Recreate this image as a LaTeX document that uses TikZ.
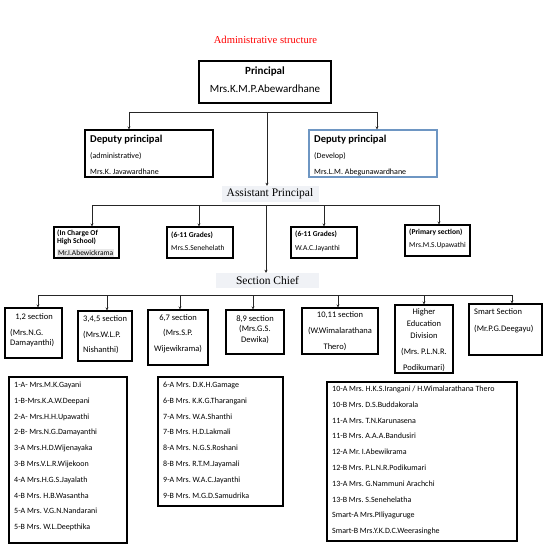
\documentclass[tikz,border=0pt]{standalone}
\usepackage{fontspec}
\setmainfont{Carlito}
\newfontfamily\titleserif{Liberation Serif}
\usetikzlibrary{arrows.meta}
\definecolor{devblue}{RGB}{110,150,195}
\definecolor{lblbg}{RGB}{240,242,246}
\frenchspacing
\begin{document}
\begin{tikzpicture}[x=1pt,y=-1pt,
  box/.style={draw=black, line width=1.1pt, inner sep=0pt, fill=none},
  ln/.style={inner sep=0pt, anchor=base west},
  cln/.style={inner sep=0pt, anchor=base},
  conn/.style={draw=black!85, line width=0.9pt},
  arr/.style={conn, -{Stealth[length=3pt,width=3pt]}},
  lbl/.style={fill=lblbg, inner sep=0pt, font=\titleserif\fontsize{11.5}{12}\selectfont},
  fA/.style={font=\fontsize{11}{13}\selectfont},
  fB/.style={font=\fontsize{10.5}{12}\selectfont\bfseries},
  fC/.style={font=\fontsize{8}{10}\selectfont},
  fR/.style={font=\fontsize{7.5}{9}\selectfont},
  fRb/.style={font=\fontsize{7.5}{9}\selectfont\bfseries},
  fS/.style={font=\fontsize{8.5}{10}\selectfont},
  fL/.style={font=\fontsize{8}{10}\selectfont}]
\useasboundingbox (0,0) rectangle (546,553);
\fill[white] (0,0) rectangle (546,553);

% title
\node[cln, text=red, font=\titleserif\fontsize{10.6}{12}\selectfont] (title) at (265.5,43.2) {Administrative structure};

% principal
\node[box, minimum width=132pt, minimum height=42pt] (p) at (265,82) {};
\node[cln, fA] (p1) at (265,74.5) {\textbf{Principal}};
\node[cln, fA] (p2) at (265,92.5) {Mrs.K.M.P.Abewardhane};

% deputies
\node[box, minimum width=128pt, minimum height=47pt] (dl) at (149,153.5) {};
\node[ln, fB] (dl1) at (90,142.3) {Deputy principal};
\node[ln, fC] (dl2) at (90,158.4) {(administrative)};
\node[ln, fC] (dl3) at (90,174.6) {Mrs.K. Javawardhane};
\node[box, draw=devblue, minimum width=128pt, minimum height=47pt] (dr) at (373,153.5) {};
\node[ln, fB] (dr1) at (314,142.3) {Deputy principal};
\node[ln, fC] (dr2) at (314,158.4) {(Develop)};
\node[ln, fC] (dr3) at (314,174.6) {Mrs.L.M. Abegunawardhane};

% labels
\node[lbl, minimum width=97pt, minimum height=16pt] (ap) at (270,194) {Assistant Principal};
\node[lbl, minimum width=103pt, minimum height=15pt] (sc) at (267.5,280.5) {Section Chief};

% top connectors
\coordinate (t0) at (267,112);
\coordinate (tl) at (129,112);
\coordinate (tr) at (377,112);
\draw[conn] (tl) -- (tr);
\draw[arr] (tl) -- (tl |- dl.north);
\draw[arr] (tr) -- (tr |- dr.north);
\draw[arr] (t0) -- (t0 |- ap.north);

% row 2 boxes
\node[box, minimum width=65pt, minimum height=31pt] (r1) at (86.5,242.5) {};
\node[box, minimum width=66pt, minimum height=31pt] (r2) at (200,242.5) {};
\node[box, minimum width=66pt, minimum height=31pt] (r3) at (324,242.5) {};
\node[box, minimum width=65pt, minimum height=31pt] (r4) at (437.5,240.5) {};
\node[ln, fRb] (r1a) at (57,235.2) {(In Charge Of};
\node[ln, fRb] (r1b) at (57,243.2) {High School)};
\node[ln, fR, fill=black!9, inner sep=0.8pt, text depth=1pt] (r1c) at (57,255.2) {Mr.I.Abewickrama};
\node[ln, fRb] (r2a) at (171,237.2) {(6-11 Grades)};
\node[ln, fR] (r2b) at (171,250.2) {Mrs.S.Senehelath};
\node[ln, fRb] (r3a) at (295,236.2) {(6-11 Grades)};
\node[ln, fR] (r3b) at (295,250.2) {W.A.C.Jayanthi};
\node[ln, fRb] (r4a) at (409,234.2) {(Primary section)};
\node[ln, fR] (r4b) at (409,247.2) {Mrs.M.S.Upawathi};

% row 2 connectors
\coordinate (a0) at (266,205);
\coordinate (a1) at (92,205);
\coordinate (a2) at (199,205);
\coordinate (a3) at (324,205);
\coordinate (a4) at (439,205);
\draw[conn] (a1) -- (a4);
\draw[arr] (a1) -- (a1 |- r1.north);
\draw[arr] (a2) -- (a2 |- r2.north);
\draw[arr] (a3) -- (a3 |- r3.north);
\draw[arr] (a4) -- (a4 |- r4.north);
\draw[arr] (a0) -- (a0 |- sc.north);

% row 3 boxes
\node[box, minimum width=57pt, minimum height=50pt] (s1) at (33.5,333) {};
\node[box, minimum width=54pt, minimum height=50pt] (s2) at (105,336) {};
\node[box, minimum width=60pt, minimum height=55pt] (s3) at (178,337.5) {};
\node[box, minimum width=58pt, minimum height=44pt] (s4) at (255,332) {};
\node[box, minimum width=76pt, minimum height=46pt] (s5) at (340,331) {};
\node[box, minimum width=58pt, minimum height=68pt] (s6) at (424,339) {};
\node[box, minimum width=73pt, minimum height=51pt] (s7) at (505.5,329.5) {};

\node[cln, fS] (s1a) at (34,319.5) {1,2 section};
\node[ln, fS] (s1b) at (10,335.5) {(Mrs.N.G.};
\node[ln, fS] (s1c) at (10,345.5) {Damayanthi)};
\node[ln, fS] (s2a) at (83,321.5) {3,4,5 section};
\node[ln, fS] (s2b) at (83,337.5) {(Mrs.W.L.P.};
\node[ln, fS] (s2c) at (83,352.5) {Nishanthi)};
\node[cln, fS] (s3a) at (178,320.5) {6,7 section};
\node[cln, fS] (s3b) at (178,335.5) {(Mrs.S.P.};
\node[cln, fS] (s3c) at (178,351.5) {Wijewikrama)};
\node[cln, fS] (s4a) at (255,321.5) {8,9 section};
\node[cln, fS] (s4b) at (255,331.5) {(Mrs.G.S.};
\node[cln, fS] (s4c) at (255,342.5) {Dewika)};
\node[cln, fS] (s5a) at (340,317.5) {10,11 section};
\node[cln, fS] (s5b) at (340,333.5) {(W.Wimalarathana};
\node[cln, fS] (s5c) at (335,349.5) {Thero)};
\node[cln, fS] (s6a) at (424,314.5) {Higher};
\node[cln, fS] (s6b) at (424,326.5) {Education};
\node[cln, fS] (s6c) at (424,338.5) {Division};
\node[cln, fS] (s6d) at (424,354.5) {(Mrs. P.L.N.R.};
\node[cln, fS] (s6e) at (424,370.5) {Podikumari)};
\node[ln, fS] (s7a) at (474,314.5) {Smart Section};
\node[ln, fS] (s7b) at (474,331.5) {(Mr.P.G.Deegayu)};

% row 3 connectors
\coordinate (c1) at (38,295);
\coordinate (c2) at (107,295);
\coordinate (c3) at (180,295);
\coordinate (c4) at (253,295);
\coordinate (c5) at (338,295);
\coordinate (c6) at (424,295);
\coordinate (c7) at (512,295);
\draw[conn] (c1) -- (c7);
\draw[arr] (c1) -- (c1 |- s1.north);
\draw[arr] (c2) -- (c2 |- s2.north);
\draw[arr] (c3) -- (c3 |- s3.north);
\draw[arr] (c4) -- (c4 |- s4.north);
\draw[arr] (c5) -- (c5 |- s5.north);
\draw[arr] (c6) -- (c6 |- s6.north);
\draw[arr] (c7) -- (c7 |- s7.north);

% bottom lists
\node[box, minimum width=118pt, minimum height=166pt] (la) at (68,460) {};
\node[box, minimum width=125pt, minimum height=129pt] (lb) at (220.5,441.5) {};
\node[box, minimum width=190pt, minimum height=159pt] (lc) at (422,461.5) {};
\foreach \t [count=\i] in {1-A- Mrs.M.K.Gayani, 1-B-Mrs.K.A.W.Deepani, 2-A- Mrs.H.H.Upawathi, 2-B- Mrs.N.G.Damayanthi, 3-A Mrs.H.D.Wijenayaka, 3-B Mrs.V.L.R.Wijekoon, 4-A Mrs.H.G.S.Jayalath, 4-B Mrs. H.B.Wasantha, 5-A Mrs. V.G.N.Nandarani, 5-B Mrs. W.L.Deepthika}
  \node[ln, fL] (la\i) at (14,387.4+15.8*\i-15.8) {\t};
\foreach \t [count=\i] in {6-A Mrs. D.K.H.Gamage, 6-B Mrs. K.K.G.Tharangani, 7-A Mrs. W.A.Shanthi, 7-B Mrs. H.D.Lakmali, 8-A Mrs. N.G.S.Roshani, 8-B Mrs. R.T.M.Jayamali, 9-A Mrs. W.A.C.Jayanthi, 9-B Mrs. M.G.D.Samudrika}
  \node[ln, fL] (lb\i) at (163,387.4+15.8*\i-15.8) {\t};
\foreach \t [count=\i] in {10-A Mrs. H.K.S.Irangani / H.Wimalarathana Thero, 10-B Mrs. D.S.Buddakorala, 11-A Mrs. T.N.Karunasena, 11-B Mrs. A.A.A.Bandusiri, 12-A Mr. I.Abewikrama, 12-B Mrs. P.L.N.R.Podikumari, 13-A Mrs. G.Nammuni Arachchi, 13-B Mrs. S.Senehelatha, Smart-A Mrs.PIliyaguruge, Smart-B Mrs.Y.K.D.C.Weerasinghe}
  \node[ln, fL] (lc\i) at (332,391.4+15.8*\i-15.8) {\t};
\end{tikzpicture}
\end{document}
